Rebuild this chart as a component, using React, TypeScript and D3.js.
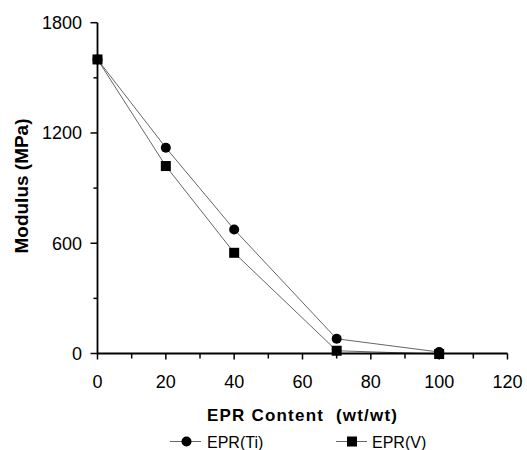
import React from "react";
import * as d3 from "d3";

const contents = [0, 20, 40, 70, 100];
const modulusTi = [1600, 1120, 675, 80, 8];
const modulusV = [1600, 1020, 548, 15, -3];
const seriesNames = ["EPR(Ti)", "EPR(V)"];
const xMajorTicks = [0, 20, 40, 60, 80, 100, 120];
const xMinorTicks = [10, 30, 50, 70, 90, 110];
const yMajorTicks = [0, 600, 1200, 1800];
const yMinorTicks = [300, 900, 1500];

const W = 527;
const H = 450;

export default function App() {
  const x = d3.scaleLinear().domain([0, 120]).range([97.5, 507.5]);
  const y = d3.scaleLinear().domain([0, 1800]).range([353.5, 22.7]);
  const line = d3
    .line<[number, number]>()
    .x((d) => x(d[0]))
    .y((d) => y(d[1]));
  const ti: [number, number][] = contents.map((c, i) => [c, modulusTi[i]]);
  const v: [number, number][] = contents.map((c, i) => [c, modulusV[i]]);
  const font = "Arial, 'Liberation Sans', Helvetica, sans-serif";

  return (
    <svg
      width={W}
      height={H}
      style={{ position: "absolute", left: 0, top: 0, display: "block", background: "#fff" }}
      fontFamily={font}
    >
      {/* data lines */}
      <path d={line(ti) || ""} fill="none" stroke="#555" strokeWidth={0.9} />
      <path d={line(v) || ""} fill="none" stroke="#555" strokeWidth={0.9} />
      {/* axes */}
      <line x1={x(0)} x2={x(0)} y1={y(0)} y2={y(1800)} stroke="#000" strokeWidth={1.8} />
      <line x1={x(0)} x2={x(120)} y1={y(0)} y2={y(0)} stroke="#000" strokeWidth={1.8} />
      {yMajorTicks.map((t) => (
        <g key={"ym" + t}>
          <line x1={x(0) - 7} x2={x(0)} y1={y(t)} y2={y(t)} stroke="#000" strokeWidth={1.5} />
          <text x={82} y={y(t)} dy="0.36em" textAnchor="end" fontSize={18}>
            {t}
          </text>
        </g>
      ))}
      {yMinorTicks.map((t) => (
        <line key={"yn" + t} x1={x(0) - 4} x2={x(0)} y1={y(t)} y2={y(t)} stroke="#000" strokeWidth={1.5} />
      ))}
      {xMajorTicks.map((t) => (
        <g key={"xm" + t}>
          <line x1={x(t)} x2={x(t)} y1={y(0)} y2={y(0) + 6} stroke="#000" strokeWidth={1.5} />
          <text x={x(t)} y={388} textAnchor="middle" fontSize={18}>
            {t}
          </text>
        </g>
      ))}
      {xMinorTicks.map((t) => (
        <line key={"xn" + t} x1={x(t)} x2={x(t)} y1={y(0)} y2={y(0) + 5} stroke="#000" strokeWidth={1.5} />
      ))}
      {/* markers */}
      {ti.map((d, i) => (
        <circle key={"c" + i} cx={x(d[0])} cy={y(d[1])} r={5} fill="#000" />
      ))}
      {v.map((d, i) => (
        <rect key={"s" + i} x={x(d[0]) - 5} y={y(d[1]) - 5} width={10} height={10} fill="#000" />
      ))}
      {/* axis titles */}
      <text
        transform="translate(28,186) rotate(-90)"
        textAnchor="middle"
        fontSize={18}
        fontWeight="bold"
        textLength={135}
        lengthAdjust="spacingAndGlyphs"
      >
        Modulus (MPa)
      </text>
      <text
        x={302}
        y={421}
        textAnchor="middle"
        fontSize={17}
        fontWeight="bold"
        textLength={190}
        lengthAdjust="spacing"
        style={{ whiteSpace: "pre" }}
      >
        {"EPR Content  (wt/wt)"}
      </text>
      {/* legend */}
      <line x1={170} x2={201} y1={441.5} y2={441.5} stroke="#555" strokeWidth={0.9} />
      <circle cx={186.5} cy={441.5} r={5} fill="#000" />
      <text x={207} y={447.5} fontSize={16}>
        {seriesNames[0]}
      </text>
      <line x1={336} x2={367} y1={441.5} y2={441.5} stroke="#555" strokeWidth={0.9} />
      <rect x={347} y={436.5} width={10} height={10} fill="#000" />
      <text x={372} y={447.5} fontSize={16}>
        {seriesNames[1]}
      </text>
    </svg>
  );
}
